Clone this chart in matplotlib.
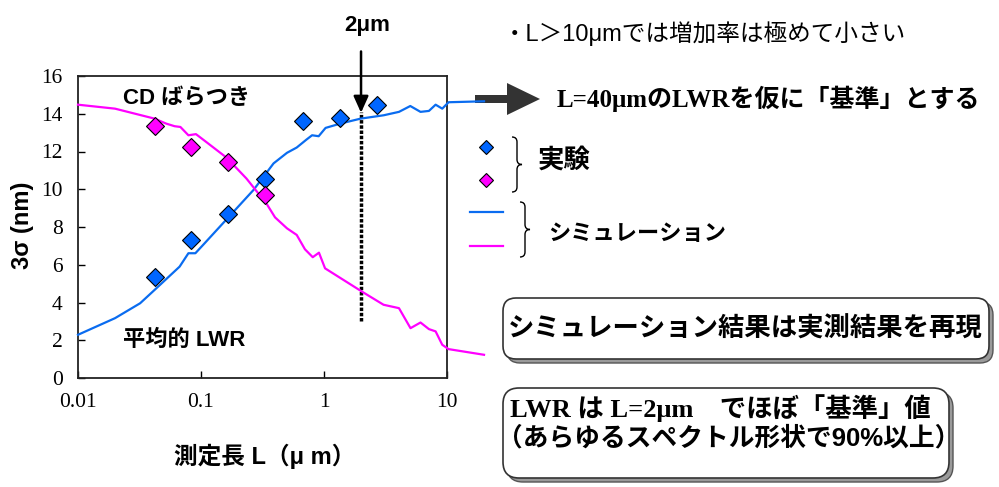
import numpy as np
import matplotlib
matplotlib.use("Agg")
import matplotlib.pyplot as plt
from matplotlib.patches import FancyBboxPatch, FancyArrow, PathPatch
from matplotlib.path import Path
from matplotlib.ticker import FixedLocator, FixedFormatter, NullLocator

# simulation curves (L in um, 3sigma in nm)
sim_L = [0.01, 0.020, 0.032, 0.042, 0.067, 0.079, 0.090, 0.104, 0.184, 0.267,
         0.389, 0.50, 0.60, 0.72, 0.80, 0.905, 1.03, 1.36, 1.98, 3.06,
         4.07, 5.03, 6.09, 7.13, 8.08, 9.15, 10.3, 20.0]
sim_lwr = [2.29, 3.17, 3.96, 4.67, 5.90, 6.61, 6.61, 7.05, 8.81, 9.96,
           11.37, 11.93, 12.21, 12.63, 12.86, 12.81, 13.25, 13.48, 13.74, 13.92,
           14.10, 14.41, 14.10, 14.15, 14.48, 14.27, 14.61, 14.66]

sim_L2 = [0.01, 0.020, 0.042, 0.052, 0.061, 0.068, 0.079, 0.091, 0.110, 0.161,
          0.234, 0.34, 0.40, 0.50, 0.60, 0.70, 0.81, 0.91, 1.02, 2.09,
          3.05, 4.07, 5.05, 6.09, 7.13, 8.08, 9.15, 10.3, 20.0]
sim_cd = [14.48, 14.27, 13.74, 13.48, 13.34, 13.30, 12.86, 12.92, 12.51, 11.68,
          10.57, 9.25, 8.51, 7.93, 7.58, 6.82, 6.40, 6.64, 5.81, 4.53,
          3.88, 3.70, 2.64, 2.94, 2.59, 2.47, 1.76, 1.53, 1.23]

# experiment
exp_L = [0.042, 0.083, 0.165, 0.33, 0.67, 1.36, 2.72]
exp_lwr = [5.34, 7.31, 8.69, 10.52, 13.60, 13.80, 14.48]
exp_L2 = [0.042, 0.083, 0.165, 0.33]
exp_cd = [13.36, 12.25, 11.44, 9.69]

xticks = [0.01, 0.1, 1, 10]
xticklabels = ["0.01", "0.1", "1", "10"]
yticks = [0, 2, 4, 6, 8, 10, 12, 14, 16]

blue = "#0a6cf0"
blue_m = "#0066ff"
mag = "#ff00ff"
JP = "Noto Sans CJK JP"
SANS = ["Liberation Sans", JP]
SERIF = ["Liberation Serif", JP]

fig = plt.figure(figsize=(9.99, 4.87), dpi=100)

# overlay in pixel coords for annotations
ov = fig.add_axes([0, 0, 1, 1], zorder=0)
ov.set_xlim(0, 999)
ov.set_ylim(487, 0)
ov.axis("off")

ax = fig.add_axes([78 / 999, 1 - 378 / 487, 369 / 999, 302 / 487], zorder=2)
ax.set_facecolor("none")
ax.set_xscale("log")
ax.set_xlim(0.01, 10)
ax.set_ylim(0, 16)

ax.plot(sim_L, sim_lwr, color=blue, lw=1.6, clip_on=False, zorder=3)
ax.plot(sim_L2, sim_cd, color=mag, lw=1.6, clip_on=False, zorder=3)
ax.plot(exp_L, exp_lwr, "D", ms=9, mfc=blue_m, mec="black", mew=0.8, clip_on=False, zorder=4)
ax.plot(exp_L2, exp_cd, "D", ms=9, mfc=mag, mec="black", mew=0.8, clip_on=False, zorder=4)

ax.plot([2, 2], [3.0, 14.1], color="black", lw=2.5, linestyle=(0, (1, 0.5)), zorder=2)
ax.annotate("", xy=(2, 14.05), xytext=(2, 17.3), annotation_clip=False,
            arrowprops=dict(arrowstyle="-|>,head_length=1.0,head_width=0.45",
                            color="black", lw=1.8, shrinkA=0, shrinkB=0))

ax.xaxis.set_major_locator(FixedLocator(xticks))
ax.xaxis.set_major_formatter(FixedFormatter(xticklabels))
ax.xaxis.set_minor_locator(NullLocator())
ax.set_yticks(yticks)
ax.tick_params(direction="in", length=5, width=1, labelsize=15.5)
ax.tick_params(axis="x", pad=11)
ax.tick_params(axis="y", pad=11)
for lab in ax.get_xticklabels() + ax.get_yticklabels():
    lab.set_family("Liberation Serif")
for sp in ax.spines.values():
    sp.set_linewidth(1.3)
    sp.set_color("#222222")

ov.text(22, 225, "3σ (nm)", rotation=90, ha="center", va="center",
        fontsize=17, fontweight="bold", family=SANS)
ov.text(265, 456, "測定長 L（μ m）", ha="center", va="center",
        fontsize=17, fontweight="bold", family=SANS)
ov.text(123, 99, "CD ばらつき", ha="left", va="center",
        fontsize=16, fontweight="bold", family=SANS)
ov.text(123, 340, "平均的 LWR", ha="left", va="center",
        fontsize=16, fontweight="bold", family=SANS)
ov.text(367, 25, "2μm", ha="center", va="center",
        fontsize=16, fontweight="bold", family=SANS)

ov.text(503, 34, "・L＞10μmでは増加率は極めて小さい", ha="left", va="center",
        fontsize=17, family=SANS)

ov.add_patch(FancyArrow(475, 99, 65, 0, width=8, head_width=32, head_length=33,
                        length_includes_head=True, color="#333333", lw=0))
ov.text(557, 99, "L=40μmのLWRを仮に「基準」とする", ha="left", va="center",
        fontsize=18, fontweight="bold", family=SERIF)

# legend glyphs
ov.plot([486], [147], "D", ms=7, mfc=blue_m, mec="black", mew=0.8)
ov.plot([486], [180], "D", ms=7, mfc=mag, mec="black", mew=0.8)
ov.plot([470, 503], [212, 212], color=blue, lw=1.6)
ov.plot([470, 503], [246, 246], color=mag, lw=1.6)


def brace(x, y0, y1, w):
    ym = (y0 + y1) / 2
    h = w / 2
    verts = [(x, y0), (x + h, y0), (x + h, y0 + h),
             (x + h, ym - h), (x + h, ym), (x + w, ym),
             (x + h, ym), (x + h, ym + h),
             (x + h, y1 - h), (x + h, y1), (x, y1)]
    codes = [Path.MOVETO, Path.CURVE3, Path.CURVE3,
             Path.LINETO, Path.CURVE3, Path.CURVE3,
             Path.CURVE3, Path.CURVE3,
             Path.LINETO, Path.CURVE3, Path.CURVE3]
    ov.add_patch(PathPatch(Path(verts, codes), fc="none", ec="black", lw=1.0))


brace(512, 137, 192, 10)
brace(520, 202, 257, 10)
ov.text(538, 160, "実験", ha="left", va="center", fontsize=19, fontweight="bold", family=JP)
ov.text(548, 233, "シミュレーション", ha="left", va="center", fontsize=16,
        fontweight="bold", family=JP)


def box(x, y, w, h, r):
    ov.add_patch(FancyBboxPatch((x + 4, y + 4), w, h, boxstyle=f"round,pad=0,rounding_size={r}",
                                fc="#9a9a9a", ec="#555555", lw=1.0))
    ov.add_patch(FancyBboxPatch((x, y), w, h, boxstyle=f"round,pad=0,rounding_size={r}",
                                fc="white", ec="#333333", lw=1.2))


box(503, 298, 486, 61, 13)
ov.text(745, 329, "シミュレーション結果は実測結果を再現", ha="center", va="center",
        fontsize=19, fontweight="bold", family=JP)

box(503, 388, 446, 90, 16)
ov.text(510, 408, "LWR は L=2μm　でほぼ「基準」値", ha="left", va="center",
        fontsize=19, fontweight="bold", family=SERIF)
ov.text(497, 438, "（あらゆるスペクトル形状で90%以上）", ha="left", va="center",
        fontsize=18.5, fontweight="bold", family=SANS)

fig.savefig("out.png", dpi=100)
